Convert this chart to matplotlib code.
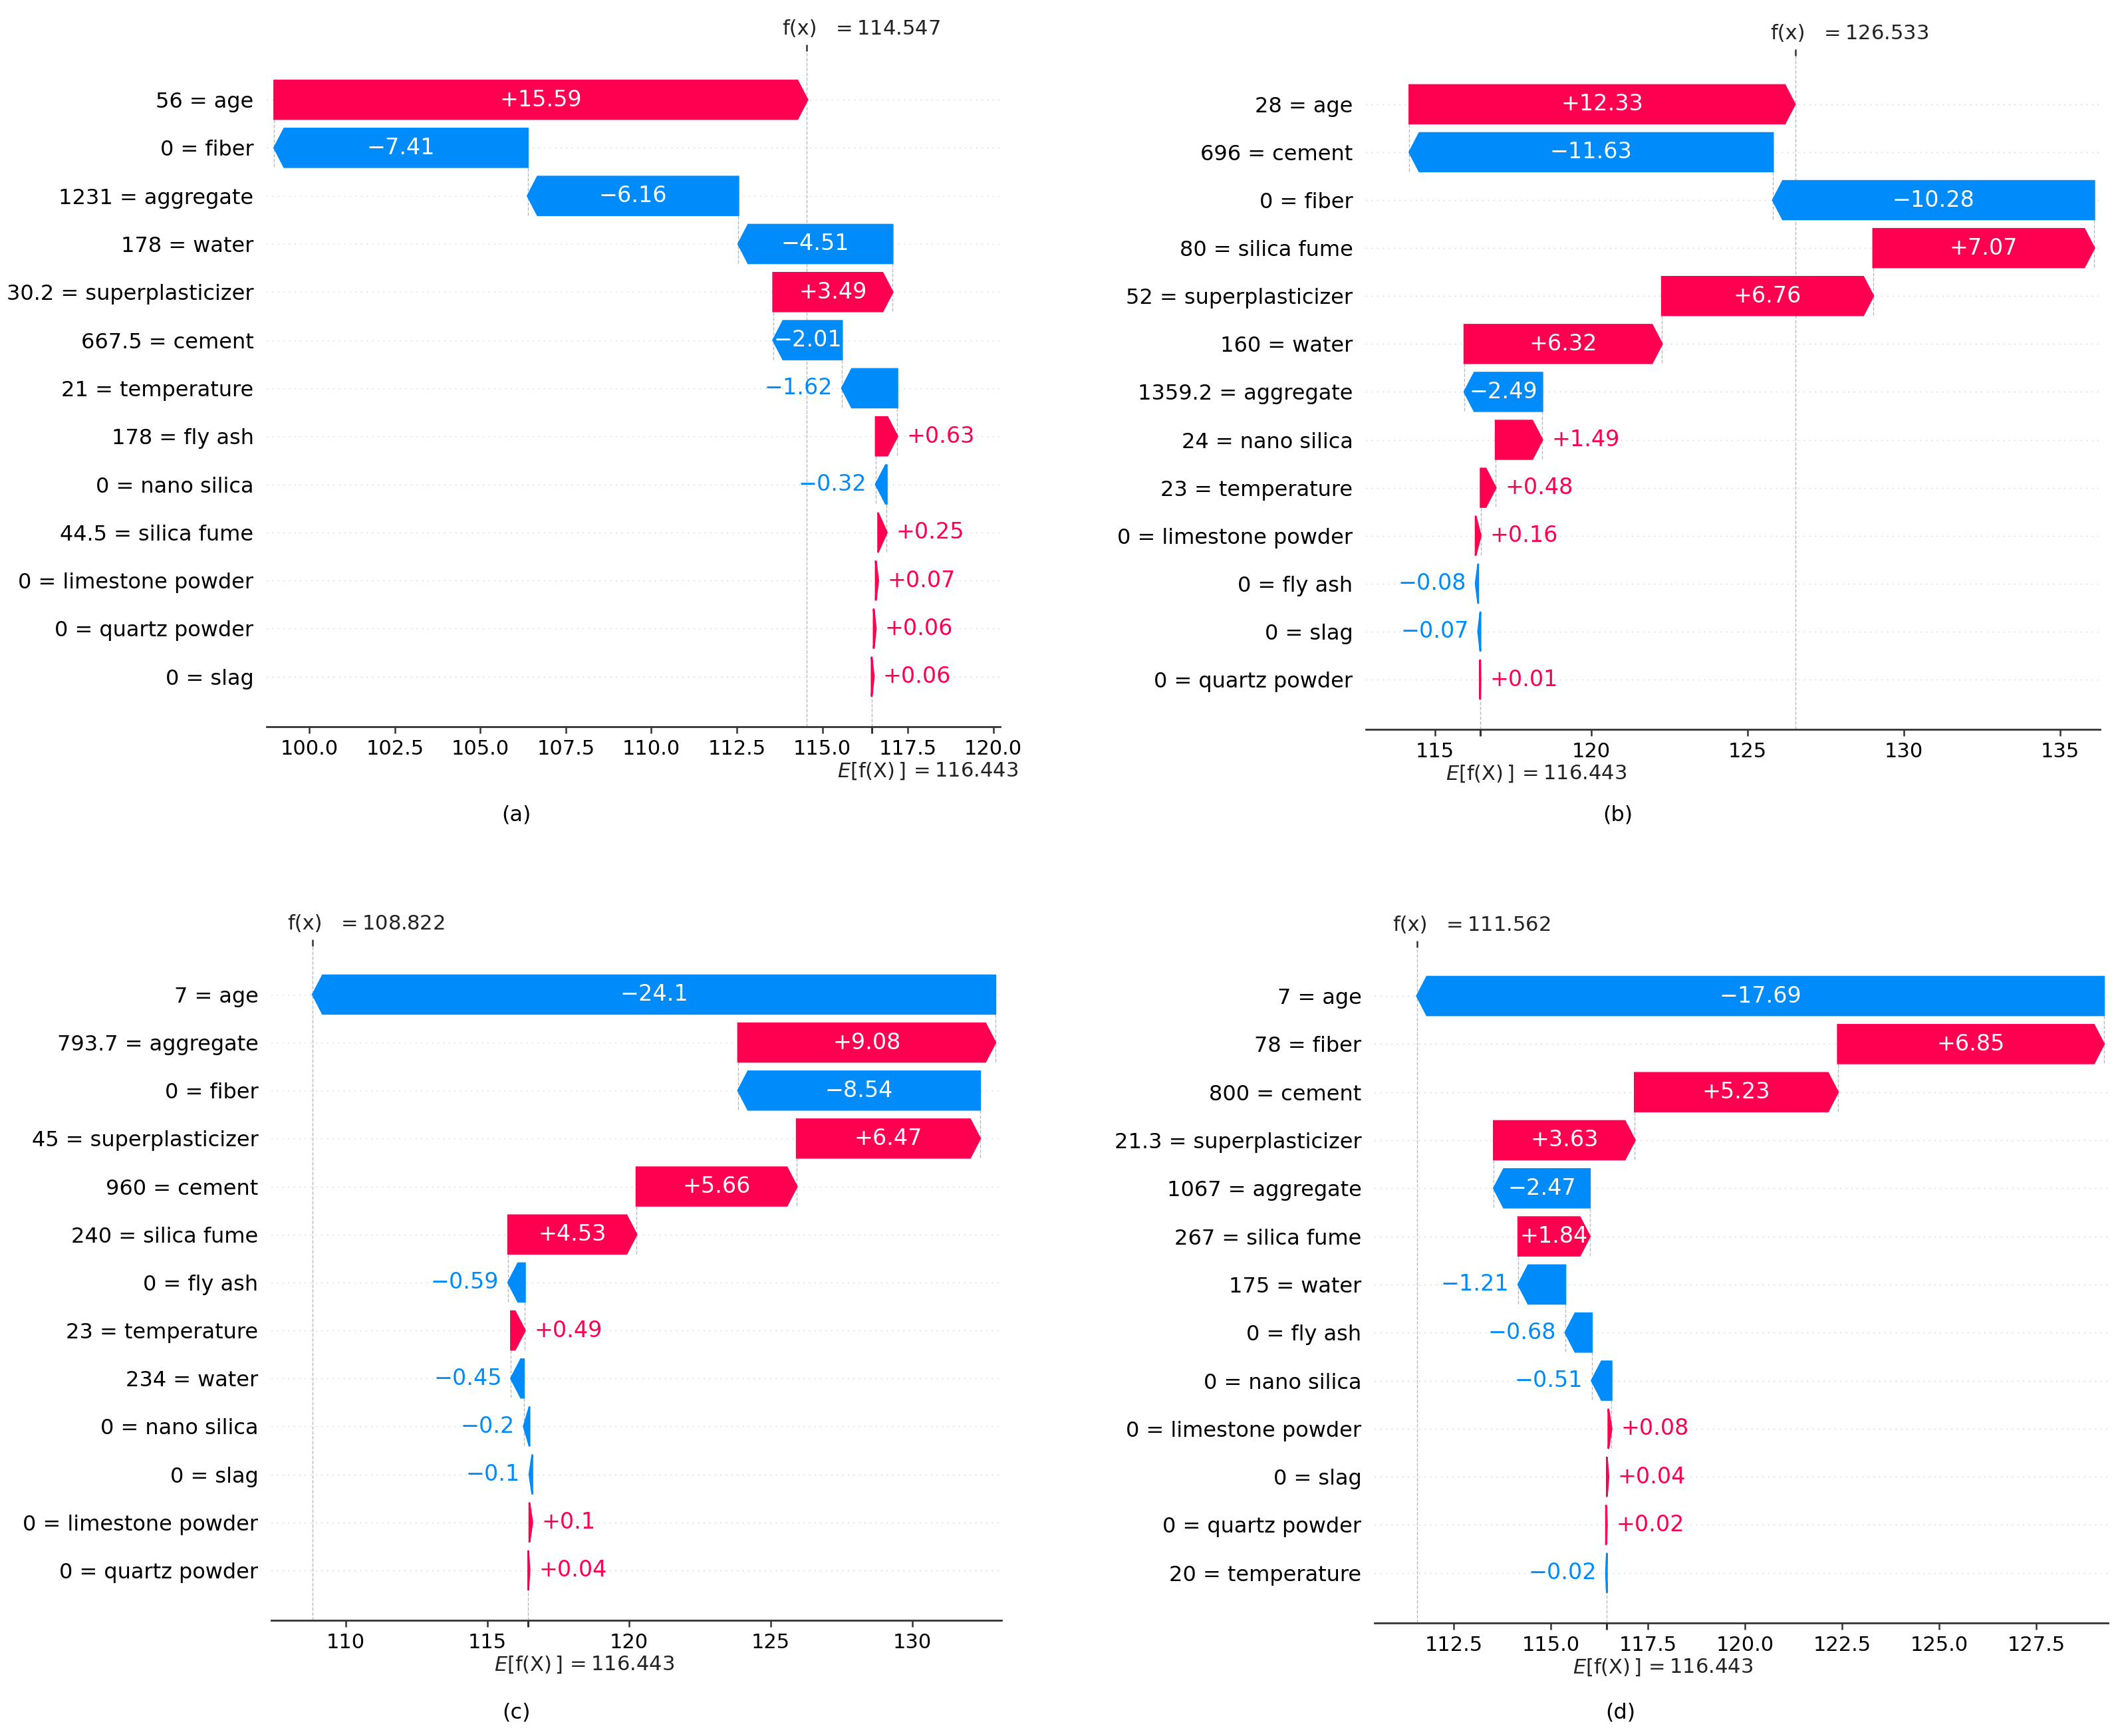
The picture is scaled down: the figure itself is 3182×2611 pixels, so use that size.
import re
import numpy as np
import matplotlib
matplotlib.use("Agg")
import matplotlib.pyplot as plt
from matplotlib.patches import FancyArrow

RED = "#ff0051"
BLUE = "#008bfb"
BASE = 116.443

# (a)
a_names = ["age", "fiber", "aggregate", "water", "superplasticizer", "cement", "temperature",
           "fly ash", "nano silica", "silica fume", "limestone powder", "quartz powder", "slag"]
a_inputs = [56, 0, 1231, 178, 30.2, 667.5, 21, 178, 0, 44.5, 0, 0, 0]
a_shap = [15.59, -7.41, -6.16, -4.51, 3.49, -2.01, -1.62, 0.63, -0.32, 0.25, 0.07, 0.06, 0.06]
a_fx = 114.547

# (b)
b_names = ["age", "cement", "fiber", "silica fume", "superplasticizer", "water", "aggregate",
           "nano silica", "temperature", "limestone powder", "fly ash", "slag", "quartz powder"]
b_inputs = [28, 696, 0, 80, 52, 160, 1359.2, 24, 23, 0, 0, 0, 0]
b_shap = [12.33, -11.63, -10.28, 7.07, 6.76, 6.32, -2.49, 1.49, 0.48, 0.16, -0.08, -0.07, 0.01]
b_fx = 126.533

# (c)
c_names = ["age", "aggregate", "fiber", "superplasticizer", "cement", "silica fume", "fly ash",
           "temperature", "water", "nano silica", "slag", "limestone powder", "quartz powder"]
c_inputs = [7, 793.7, 0, 45, 960, 240, 0, 23, 234, 0, 0, 0, 0]
c_shap = [-24.1, 9.08, -8.54, 6.47, 5.66, 4.53, -0.59, 0.49, -0.45, -0.2, -0.1, 0.1, 0.04]
c_fx = 108.822

# (d)
d_names = ["age", "fiber", "cement", "superplasticizer", "aggregate", "silica fume", "water",
           "fly ash", "nano silica", "limestone powder", "slag", "quartz powder", "temperature"]
d_inputs = [7, 78, 800, 21.3, 1067, 267, 175, 0, 0, 0, 0, 0, 20]
d_shap = [-17.69, 6.85, 5.23, 3.63, -2.47, 1.84, -1.21, -0.68, -0.51, 0.08, 0.04, 0.02, -0.02]
d_fx = 111.562


def fmt(v, f):
    s = f % v
    s = re.sub(r'\.?0+$', '', s)
    if s[0] == "-":
        s = "\u2212" + s[1:]
    return s


fig = plt.figure(figsize=(15.91, 13.055), dpi=200)
W, H = 3182.0, 2611.0
renderer = fig.canvas.get_renderer()


def waterfall(box, xlim, names, inputs, shap, fx, caption, cap_xy):
    left, top, right, bottom = box
    ax = fig.add_axes([left / W, 1 - bottom / H, (right - left) / W, (bottom - top) / H])
    n = len(names)
    vals = np.array(shap)
    rows = np.arange(n)[::-1]
    ends = BASE + np.cumsum(vals[::-1])[::-1]
    starts = ends - vals

    ax.set_xlim(xlim)
    ax.set_ylim(-1.04, n - 1 + 1.01)

    bb = ax.get_window_extent().transformed(fig.dpi_scale_trans.inverted())
    x_per_in = (xlim[1] - xlim[0]) / bb.width
    hl = 0.075 * x_per_in
    pad = 5 / 72 * x_per_in

    for r in rows:
        ax.axhline(r, color="#cccccc", lw=0.5, dashes=(1, 5), zorder=-1)

    # connectors between consecutive bars
    for i in range(n):
        if i + 4 < n:
            ax.plot([starts[i], starts[i]], [rows[i] - 1 - 0.4, rows[i] + 0.4],
                    color="#bbbbbb", ls="--", lw=0.5, zorder=-1)

    ax.axvline(BASE, 0, 1 / n, color="#bbbbbb", ls="--", lw=0.5, zorder=-1)
    ax.axvline(fx, 0, 1, color="#bbbbbb", ls="--", lw=0.5, zorder=-1)

    for i in range(n):
        v = vals[i]
        dist = abs(v)
        sgn = 1 if v >= 0 else -1
        col = RED if v >= 0 else BLUE
        arr = FancyArrow(starts[i], rows[i], sgn * max(dist - hl, 1e-6), 0,
                         width=0.8, head_width=0.8, head_length=min(dist, hl),
                         color=col, lw=1)
        ax.add_patch(arr)
        lab = fmt(v, "%+0.02f")
        t = ax.text(starts[i] + v / 2, rows[i], lab, ha="center", va="center",
                    color="white", fontsize=12)
        if t.get_window_extent(renderer).width > arr.get_window_extent(renderer).width:
            t.remove()
            ax.text(ends[i] + sgn * pad, rows[i], lab,
                    ha="left" if v >= 0 else "right", va="center",
                    color=col, fontsize=12)

    ax.set_yticks(rows)
    ax.set_yticklabels([fmt(x, "%0.03f") + " = " + nm for x, nm in zip(inputs, names)],
                       fontsize=11.5)
    ax.yaxis.set_ticks_position("none")
    ax.tick_params(axis="x", labelsize=11, color="#333333", width=0.9)
    for s in ["top", "right", "left"]:
        ax.spines[s].set_visible(False)
    ax.spines["bottom"].set_color("#333333")
    ax.spines["bottom"].set_linewidth(1.0)

    # f(x) tick on top, E[f(X)] tick on bottom
    ax_top = ax.twiny()
    ax_top.set_xlim(xlim)
    ax_top.set_xticks([fx])
    ax_top.set_xticklabels([])
    ax_top.tick_params(axis="x", color="#333333", width=0.9)
    ax_bot = ax.twiny()
    ax_bot.set_xlim(xlim)
    ax_bot.xaxis.set_ticks_position("bottom")
    ax_bot.set_xticks([BASE])
    ax_bot.set_xticklabels([])
    ax_bot.tick_params(axis="x", color="#333333", width=1.1)
    for a in (ax_top, ax_bot):
        for s in a.spines.values():
            s.set_visible(False)

    ax.annotate("f(x)", xy=(fx, 1), xycoords=("data", "axes fraction"),
                xytext=(-13.5, 12), textcoords="offset points", ha="left", va="center",
                fontsize=11, color="#222222")
    ax.annotate("$ = " + fmt(fx, "%0.03f") + "$", xy=(fx, 1), xycoords=("data", "axes fraction"),
                xytext=(13.5, 12), textcoords="offset points", ha="left", va="center",
                fontsize=11, color="#222222")
    ax.annotate(r"$E[\mathrm{f(X)}\,]$", xy=(BASE, 0), xycoords=("data", "axes fraction"),
                xytext=(-18.5, -24), textcoords="offset points", ha="left", va="center",
                fontsize=11, color="#222222")
    ax.annotate("$ = " + fmt(BASE, "%0.03f") + "$", xy=(BASE, 0), xycoords=("data", "axes fraction"),
                xytext=(20.5, -24), textcoords="offset points", ha="left", va="center",
                fontsize=11, color="#222222")

    fig.text(cap_xy[0] / W, 1 - cap_xy[1] / H, caption, ha="center", va="center", fontsize=11.5)
    return ax


waterfall((401, 77, 1504, 1093), (98.75, 120.2), a_names, a_inputs, a_shap, a_fx, "(a)", (776, 1226))
waterfall((2054, 84, 3158, 1097), (112.79, 136.28), b_names, b_inputs, b_shap, b_fx, "(b)", (2433, 1226))
waterfall((408, 1423, 1506, 2437), (107.37, 133.15), c_names, c_inputs, c_shap, c_fx, "(c)", (776, 2576))
waterfall((2067, 1425, 3170, 2441), (110.46, 129.35), d_names, d_inputs, d_shap, d_fx, "(d)", (2437, 2576))

fig.savefig("out.png", dpi=200)
